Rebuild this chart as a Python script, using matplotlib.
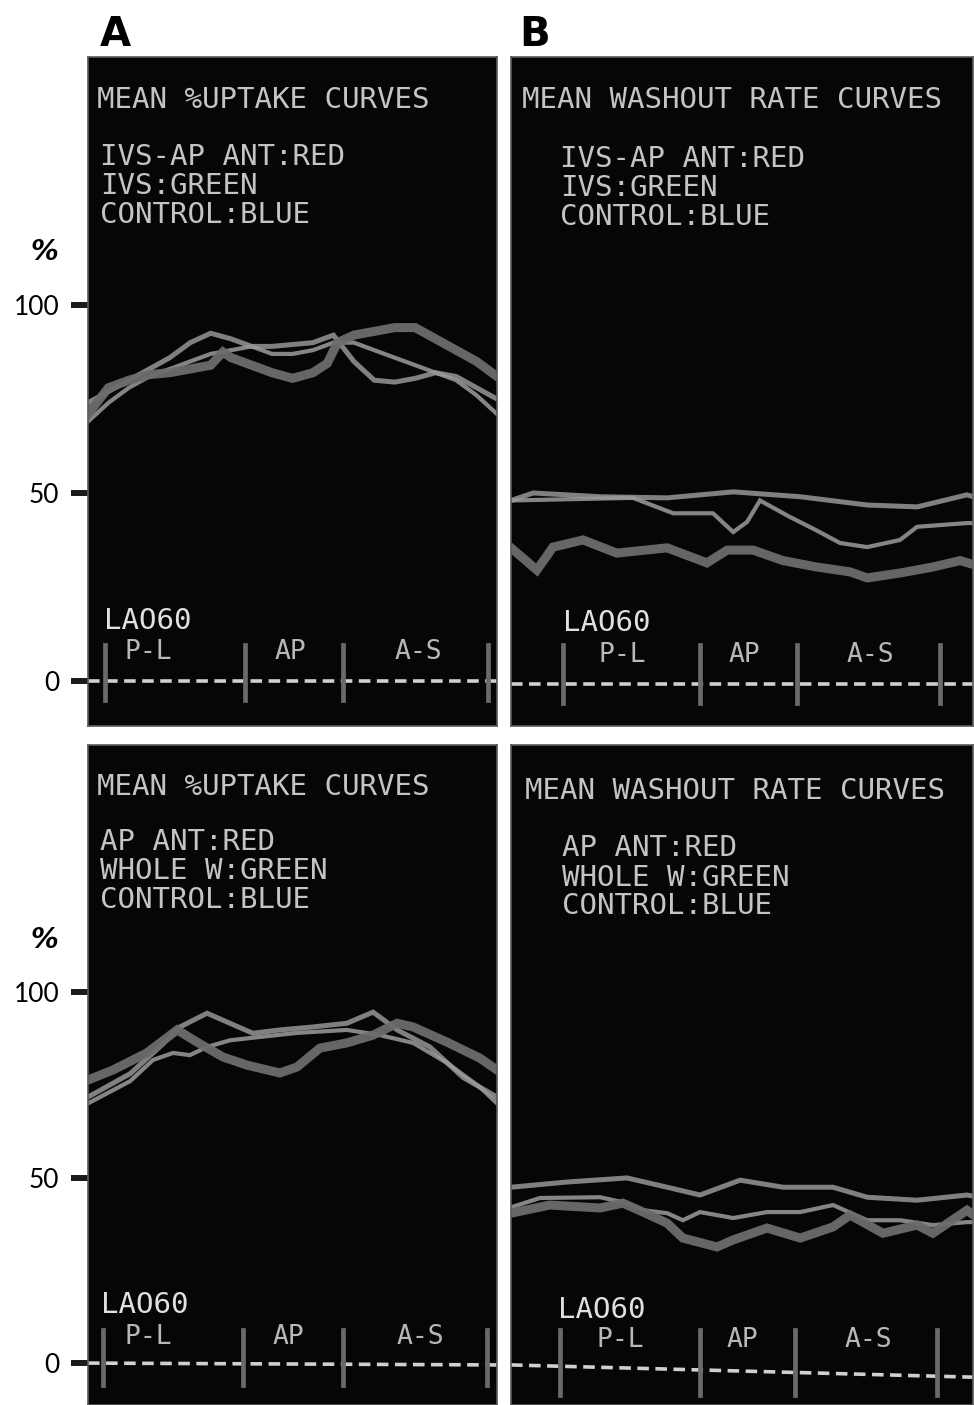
import matplotlib
matplotlib.use("Agg")
import matplotlib.pyplot as plt

# ---------------- data ----------------
# x: position along the LAO60 circumferential profile (0-100, panel width)
# top-left: mean %uptake curves
tl_x = [0, 5, 10, 15, 20, 25, 30, 33, 35, 40, 45, 50, 55, 58.5, 61, 65, 70, 75, 80, 85, 90, 95, 100]
tl_thick = [71, 78, 80, 81.5, 82, 83, 84, 87.5, 86, 84, 82, 80.5, 82, 84.5, 90, 92, 93, 94, 94, 91, 88, 85, 81]
tl_x2 = [0, 5, 10, 15, 20, 25, 30, 35, 40, 45, 50, 55, 60, 65, 70, 75, 80, 85, 90, 95, 100]
tl_b = [74, 77, 80, 83, 86, 90, 92.5, 91, 89, 89, 89.5, 90, 92, 85, 80, 79.5, 80.5, 82, 81, 78, 75]
tl_c = [69, 74, 78, 81, 83, 85, 87, 88, 89, 87, 87, 88, 90, 90, 88, 86, 84, 82, 80, 76, 71]

# top-right: mean washout rate curves
tr_thick_x = [0, 5.6, 9.1, 15.6, 22.9, 33.8, 42.4, 46.8, 52.4, 58.9, 66.2, 73.4, 77.1, 84.2, 91.3, 97.2, 100]
tr_thick = [35.4, 29.5, 35.6, 37.5, 34, 35.4, 31.4, 34.8, 34.8, 32, 30.3, 29, 27.4, 28.7, 30.3, 32, 31]
tr_b_x = [0, 4.8, 19.3, 33.8, 48.1, 62.6, 77.1, 87.9, 98.7, 100]
tr_b = [48, 50, 49, 48.7, 50.3, 49, 46.8, 46.3, 49.5, 49]
tr_c_x = [0, 26.4, 35.1, 43.7, 48.1, 51.1, 53.9, 60.4, 66.2, 71.2, 77.1, 84.2, 87.9, 98.7, 100]
tr_c = [48, 48.7, 44.6, 44.6, 39.6, 42.3, 48, 43.6, 40, 36.7, 35.6, 37.5, 41, 42, 42]

# bottom-left: mean %uptake curves
bl_thick_x = [0, 6.1, 14.4, 21.8, 26.7, 33, 38.9, 46.9, 51.1, 56.7, 63.3, 69.7, 75.6, 79.5, 87.8, 95.8, 100]
bl_thick = [76.3, 79, 83.6, 89.8, 86.5, 82.5, 80.3, 78.2, 79.8, 84.9, 86.3, 88.4, 91.6, 90.6, 86.5, 82.2, 79]
bl_b_x = [0, 10.3, 18.3, 22.5, 29.1, 34.7, 40.3, 46.9, 55, 63.3, 69.7, 75.6, 83.6, 91.7, 100]
bl_b = [71.7, 78, 86, 90.6, 94.3, 91.6, 88.9, 89.8, 90.6, 91.6, 94.6, 89.8, 85.2, 77, 71.7]
bl_c_x = [0, 10.3, 15.9, 20.8, 24.9, 29.1, 34.7, 42.8, 51.1, 63.3, 71.4, 79.5, 87.8, 95.8, 100]
bl_c = [70, 76, 81.7, 83.6, 83, 85.2, 87, 88, 89, 89.8, 88.4, 86.3, 80.9, 74.4, 70]

# bottom-right: mean washout rate curves
br_thick_x = [0, 8.4, 19.3, 24.2, 28.6, 33.8, 37.2, 44.6, 48.1, 55.4, 62.6, 69.7, 73.4, 80.5, 87.9, 91.3, 98.7, 100]
br_thick = [40.4, 42.6, 41.8, 43.1, 40.7, 37.7, 33.7, 31.3, 33.2, 36.4, 33.7, 36.7, 39.9, 35, 37.2, 35, 41.2, 40]
br_b_x = [0, 12.1, 25.1, 33.8, 40.9, 49.6, 58.9, 69.7, 77.1, 87.9, 98.7, 100]
br_b = [47.4, 48.8, 49.9, 47.4, 45.3, 49.3, 47.4, 47.4, 44.7, 43.9, 45.3, 45]
br_c_x = [0, 6.3, 19.3, 25.1, 28.6, 33.8, 37.2, 40.9, 48.1, 55.4, 62.6, 69.7, 77.1, 84.2, 91.3, 98.7, 100]
br_c = [42, 44.5, 44.7, 43.1, 41.2, 40.4, 38.5, 40.7, 39.1, 40.7, 40.7, 42.6, 38.5, 38.5, 37.2, 38, 38]

# zero (baseline) lines
zero_x = [0, 100]
zero_tl = [0, 0]
zero_tr = [-0.8, -0.8]
zero_bl = [0, -0.5]
zero_br = [-0.5, -3.8]

# segment dividers (x) and segment labels
seg_tl = [4.2, 38.4, 62.3, 97.8]
seg_tr = [11.3, 40.9, 61.9, 92.9]
seg_bl = [3.7, 37.9, 62.3, 97.6]
seg_br = [10.6, 40.9, 61.5, 92.2]
seg_names = ["P-L", "AP", "A-S"]
seg_lab_tl = [14.7, 49.4, 80.7]
seg_lab_tr = [24.2, 50.6, 77.7]
seg_lab_bl = [14.7, 48.9, 81.2]
seg_lab_br = [23.6, 50.0, 77.3]

yticks = [0, 50, 100]
ytick_labels = ["0", "50", "100"]

title_up = "MEAN %UPTAKE CURVES"
title_wo = "MEAN WASHOUT RATE CURVES"
legend_top = ["IVS-AP ANT:RED", "IVS:GREEN", "CONTROL:BLUE"]
legend_bot = ["AP ANT:RED", "WHOLE W:GREEN", "CONTROL:BLUE"]
view_label = "LAO60"

# ---------------- figure ----------------
W, H = 974, 1405
fig = plt.figure(figsize=(W / 100, H / 100), dpi=100)
fig.patch.set_facecolor("white")

def ax_at(x0, y0, x1, y1):
    return fig.add_axes([x0 / W, 1 - y1 / H, (x1 - x0) / W, (y1 - y0) / H])

TXT = "#c4c4c4"
MONO = "DejaVu Sans Mono"

def panel(ax, ylim, curves, zero, seg, seg_lab, seg_y, title, title_pos, legend, leg_pos,
          view_pos, seg_ylim, left):
    ax.set_facecolor("#060606")
    ax.set_xlim(0, 100)
    ax.set_ylim(*ylim)
    for s in ax.spines.values():
        s.set_color("#5a5a5a")
        s.set_linewidth(1.2)
    ax.set_xticks([])
    if left:
        ax.set_yticks(yticks)
        ax.set_yticklabels(ytick_labels, fontsize=19, color="black",
                           family=["Lato", "DejaVu Sans"], fontweight="normal")
        ax.tick_params(axis="y", length=12.5, width=4.3, color="#1a1a1a", pad=8, direction="out")
    else:
        ax.set_yticks([])
    # curves
    (tx, ty), (bx, by), (cx, cy) = curves
    ax.plot(bx, by, color="#8e8e8e", lw=3.6, alpha=0.9, solid_joinstyle="miter")
    ax.plot(cx, cy, color="#9c9c9c", lw=3.0, alpha=0.85, solid_joinstyle="miter")
    ax.plot(tx, ty, color="#6c6c6c", lw=6.5, alpha=0.95, solid_joinstyle="miter")
    # baseline dashes
    ax.plot(zero_x, zero, color="#d0d0d0", lw=2.6, ls=(0, (3.2, 1.8)))
    # segment dividers
    for xs in seg:
        ax.plot([xs, xs], seg_ylim, color="#6a6a6a", lw=3.4)
    for xl, name in zip(seg_lab, seg_names):
        ax.text(xl, seg_y, name, color="#b8b8b8", fontsize=19, family=MONO,
                ha="center", va="center")
    # texts
    ax.text(title_pos[0], title_pos[1], title, transform=ax.transAxes, color=TXT,
            fontsize=21, family=MONO, ha="left", va="center", clip_on=True)
    for i, line in enumerate(legend):
        ax.text(leg_pos[0], leg_pos[1][i], line, transform=ax.transAxes, color=TXT,
                fontsize=21, family=MONO, ha="left", va="center")
    ax.text(view_pos[0], view_pos[1], view_label, transform=ax.transAxes, color="#e0e0e0",
            fontsize=21, family=MONO, ha="left", va="center")

ax_tl = ax_at(88, 57, 497, 726)
ax_tr = ax_at(511, 57, 973, 726)
ax_bl = ax_at(88, 745, 497, 1405)
ax_br = ax_at(511, 745, 973, 1405)

ylim_top = (-12, 166)
ylim_bot = (-11.3, 166.6)

panel(ax_tl, ylim_top,
      [(tl_x, tl_thick), (tl_x2, tl_b), (tl_x2, tl_c)],
      zero_tl, seg_tl, seg_lab_tl, 7.7,
      title_up, (0.022, 0.936), legend_top, (0.029, [0.851, 0.807, 0.764]),
      (0.039, 0.157), (-5, 9.6), True)
panel(ax_tr, ylim_top,
      [(tr_thick_x, tr_thick), (tr_b_x, tr_b), (tr_c_x, tr_c)],
      zero_tr, seg_tr, seg_lab_tr, 6.9,
      title_wo, (0.024, 0.936), legend_top, (0.106, [0.848, 0.804, 0.761]),
      (0.113, 0.154), (-6, 9.6), False)
panel(ax_bl, ylim_bot,
      [(bl_thick_x, bl_thick), (bl_b_x, bl_b), (bl_c_x, bl_c)],
      zero_bl, seg_bl, seg_lab_bl, 7.0,
      title_up, (0.022, 0.936), legend_bot, (0.029, [0.853, 0.809, 0.765]),
      (0.032, 0.152), (-6, 9.0), True)
panel(ax_br, ylim_bot,
      [(br_thick_x, br_thick), (br_b_x, br_b), (br_c_x, br_c)],
      zero_br, seg_br, seg_lab_br, 6.2,
      title_wo, (0.030, 0.930), legend_bot, (0.110, [0.844, 0.798, 0.756]),
      (0.102, 0.144), (-8.6, 8.9), False)

# panel letters and % signs
fig.text(115 / W, 1 - 35 / H, "A", fontsize=29, fontweight="bold", ha="center", va="center")
fig.text(535 / W, 1 - 35 / H, "B", fontsize=29, fontweight="bold", ha="center", va="center")
fig.text(44 / W, 1 - 252 / H, "%", fontsize=20, fontweight="bold", style="italic",
         ha="center", va="center")
fig.text(44 / W, 1 - 940 / H, "%", fontsize=20, fontweight="bold", style="italic",
         ha="center", va="center")

fig.savefig("out.png", dpi=100, facecolor="white")
